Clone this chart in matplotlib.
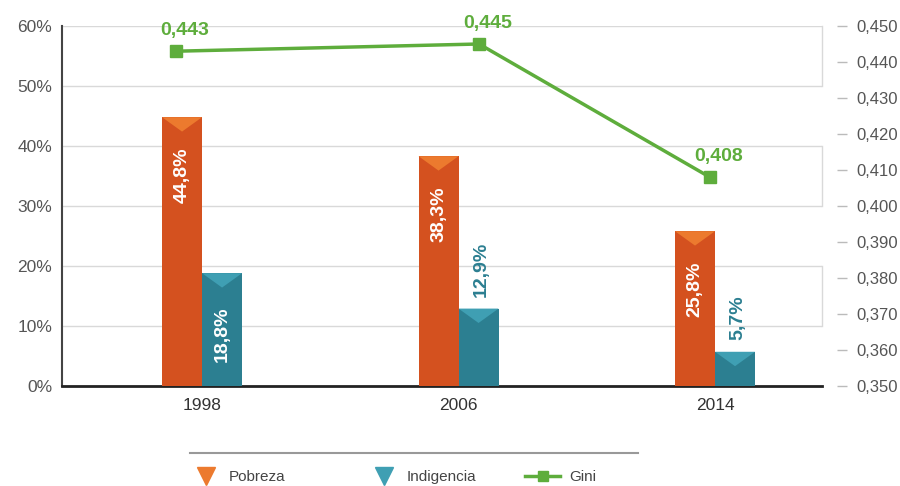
import numpy as np
import matplotlib.pyplot as plt
from matplotlib.patches import Polygon
from matplotlib.lines import Line2D

plt.rcParams['font.family'] = ['Liberation Sans', 'DejaVu Sans']

years = ['1998', '2006', '2014']
pobreza = [44.8, 38.3, 25.8]
indigencia = [18.8, 12.9, 5.7]
gini = [0.443, 0.445, 0.408]

pobreza_labels = ['44,8%', '38,3%', '25,8%']
indigencia_labels = ['18,8%', '12,9%', '5,7%']
gini_labels = ['0,443', '0,445', '0,408']

left_ticks = [0, 10, 20, 30, 40, 50, 60]
left_ticklabels = ['0%', '10%', '20%', '30%', '40%', '50%', '60%']
right_ticks = np.round(np.arange(0.350, 0.4501, 0.010), 3)

ORANGE = '#D4511F'
ORANGE_LIGHT = '#EC7A2E'
TEAL = '#2C7F91'
TEAL_LIGHT = '#3F9FB3'
GREEN = '#5EAD3C'
GRID = '#D9D9D9'

fig = plt.figure(figsize=(9, 4.86), dpi=100)
ax = fig.add_axes([0.0689, 0.2058, 0.8444, 0.7407])
ax2 = ax.twinx()

x = np.arange(len(years))
w = 0.156

# bars with a lighter folded triangle on top
for xs, vals, col, col_l in [(x - w / 2, pobreza, ORANGE, ORANGE_LIGHT),
                             (x + w / 2, indigencia, TEAL, TEAL_LIGHT)]:
    ax.bar(xs, vals, width=w, color=col, zorder=3)
    for xi, v in zip(xs, vals):
        tri = Polygon([(xi - w / 2, v), (xi + w / 2, v), (xi, v - 2.4)],
                      closed=True, color=col_l, zorder=4, lw=0)
        ax.add_patch(tri)

# value labels (rotated)
for xi, v, lab in zip(x - w / 2, pobreza, pobreza_labels):
    ax.text(xi, v - 5, lab, rotation=90, ha='center', va='top',
            color='white', fontsize=14, fontweight='bold', zorder=5)
for xi, v, lab in zip(x + w / 2, indigencia, indigencia_labels):
    if v > 15:
        ax.text(xi, v - 5.5, lab, rotation=90, ha='center', va='top',
                color='white', fontsize=14, fontweight='bold', zorder=5)
    else:
        ax.text(xi + 0.01, v + 2, lab, rotation=90, ha='center', va='bottom',
                color=TEAL, fontsize=14, fontweight='bold', zorder=5)

ax.set_xlim(-0.546, 2.417)
ax.set_ylim(0, 60)
ax.set_yticks(left_ticks)
ax.set_yticklabels(left_ticklabels)
ax.set_xticks(x)
ax.set_xticklabels(years)
ax.tick_params(axis='y', length=0, pad=7, labelsize=12.5, labelcolor='#555555')
ax.tick_params(axis='x', length=0, pad=9, labelsize=12.5, labelcolor='#333333')
ax.grid(axis='y', color=GRID, lw=1, zorder=0)
ax.set_axisbelow(True)

for s in ['top', 'right']:
    ax.spines[s].set_visible(False)
ax.spines['left'].set_color('#444444')
ax.spines['left'].set_linewidth(1.5)
ax.spines['bottom'].set_color('#222222')
ax.spines['bottom'].set_linewidth(2)

# little brackets on the right edge
for y0, y1 in [(50, 60), (30, 40), (10, 20)]:
    ax.plot([1, 1], [y0, y1], color=GRID, lw=1, transform=ax.get_yaxis_transform(),
            clip_on=False, zorder=1)

# Gini line on right axis
gini_shift = [-0.10, 0.08, -0.02]
gx = x + np.array(gini_shift)
ax2.plot(gx, gini, color=GREEN, lw=2.5, marker='s', markersize=8, zorder=6)
for xi, g, lab in zip(gx, gini, gini_labels):
    ax2.annotate(lab, (xi, g), xytext=(6, 9), textcoords='offset points',
                 ha='center', va='bottom', color=GREEN, fontsize=14, fontweight='bold')

ax2.set_ylim(0.350, 0.450)
ax2.set_yticks(right_ticks)
ax2.set_yticklabels([f'{t:.3f}'.replace('.', ',') for t in right_ticks])
for s in ['top', 'left', 'bottom']:
    ax2.spines[s].set_visible(False)
ax2.spines['right'].set_position(('outward', 18))
ax2.spines['right'].set_visible(False)
ax2.tick_params(axis='y', direction='in', length=7, width=1, color='#BBBBBB',
                pad=7, labelsize=12, labelcolor='#555555')

# legend, one item at a time so the gaps follow the reference
legend_items = [
    (Line2D([], [], color=ORANGE_LIGHT, marker='v', ls='none', markersize=13), 'Pobreza', 192, 1.8),
    (Line2D([], [], color=TEAL_LIGHT, marker='v', ls='none', markersize=13), 'Indigencia', 370, 1.8),
    (Line2D([], [], color=GREEN, marker='s', lw=2.5, markersize=7), 'Gini', 525, 2.3),
]
for h, lab, px, hl in legend_items:
    fig.legend([h], [lab], loc='center left', bbox_to_anchor=(px / 900, 1 - 477 / 486),
               frameon=False, fontsize=11, labelcolor='#444444', borderpad=0,
               borderaxespad=0, handletextpad=0.6, handlelength=hl)
fig.add_artist(Line2D([190 / 900, 638 / 900], [1 - 453 / 486, 1 - 453 / 486],
                      color='#999999', lw=1.5))

fig.savefig('out.png', dpi=100)
